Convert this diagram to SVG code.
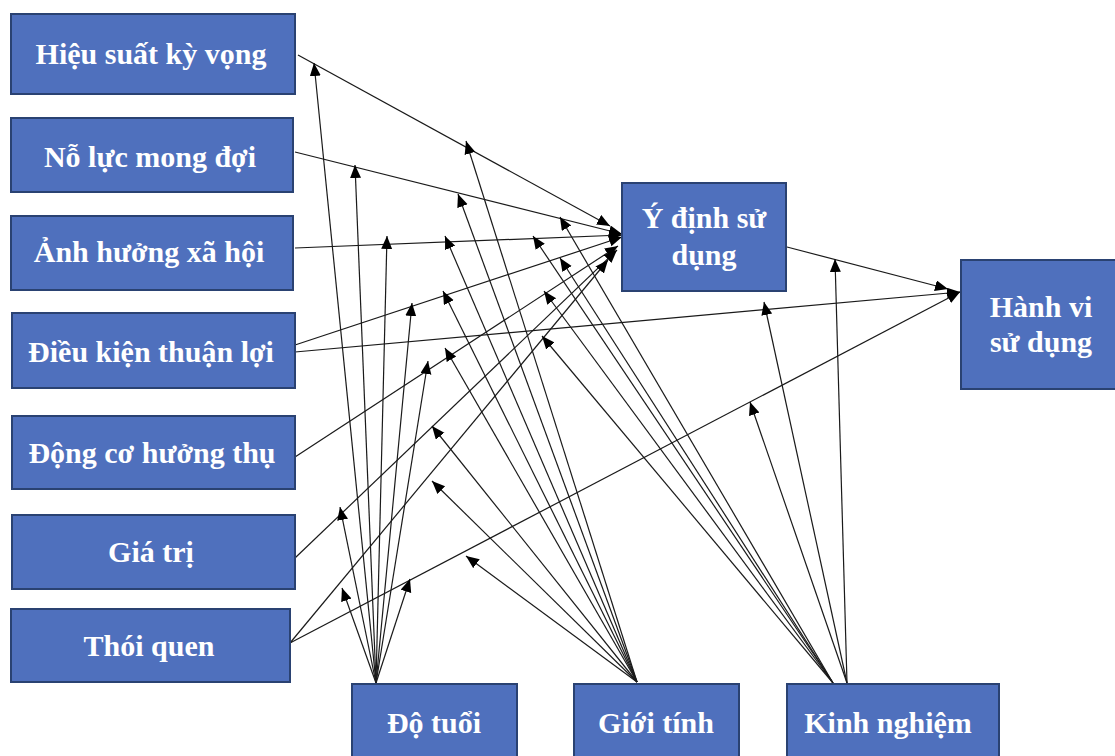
<svg xmlns="http://www.w3.org/2000/svg" width="1115" height="756" viewBox="0 0 1115 756">
<style>
.box{fill:#4F70BD;stroke:#2A4272;stroke-width:2}
.lbl{font-family:"Liberation Serif","Times New Roman",serif;font-weight:bold;font-size:30px;fill:#ffffff;text-anchor:middle}
.ln{stroke:#1a1a1a;stroke-width:1.2;fill:none;marker-end:url(#ah)}
</style>
<defs>
<marker id="ah" markerUnits="userSpaceOnUse" markerWidth="14" markerHeight="12" refX="13" refY="5.5" orient="auto">
<path d="M0,0 L13,5.5 L0,11 z" fill="#000"/>
</marker>
</defs>
<rect width="1115" height="756" fill="#ffffff"/>
<g id="connectors">
<line class="ln" x1="298" y1="55" x2="610" y2="226"/>
<line class="ln" x1="295" y1="152" x2="622" y2="234"/>
<line class="ln" x1="295" y1="248" x2="622" y2="235"/>
<line class="ln" x1="295" y1="345" x2="622" y2="237"/>
<line class="ln" x1="295" y1="352" x2="960" y2="292"/>
<line class="ln" x1="295" y1="457" x2="618" y2="246"/>
<line class="ln" x1="295" y1="558" x2="617" y2="250"/>
<line class="ln" x1="290" y1="643" x2="608" y2="260"/>
<line class="ln" x1="290" y1="643" x2="960" y2="292"/>
<line class="ln" x1="787" y1="247" x2="948" y2="289"/>
<line class="ln" x1="376" y1="683" x2="314" y2="63"/>
<line class="ln" x1="376" y1="683" x2="355" y2="165"/>
<line class="ln" x1="376" y1="683" x2="387" y2="236"/>
<line class="ln" x1="376" y1="683" x2="412" y2="303"/>
<line class="ln" x1="376" y1="683" x2="428" y2="361"/>
<line class="ln" x1="376" y1="683" x2="340" y2="507"/>
<line class="ln" x1="376" y1="683" x2="342" y2="588"/>
<line class="ln" x1="376" y1="683" x2="410" y2="579"/>
<line class="ln" x1="637" y1="682" x2="466" y2="141"/>
<line class="ln" x1="637" y1="682" x2="458" y2="194"/>
<line class="ln" x1="637" y1="682" x2="445" y2="236"/>
<line class="ln" x1="637" y1="682" x2="443" y2="291"/>
<line class="ln" x1="637" y1="682" x2="445" y2="348"/>
<line class="ln" x1="637" y1="682" x2="432" y2="426"/>
<line class="ln" x1="637" y1="682" x2="432" y2="481"/>
<line class="ln" x1="637" y1="682" x2="466" y2="556"/>
<line class="ln" x1="833" y1="683" x2="560" y2="217"/>
<line class="ln" x1="833" y1="683" x2="533" y2="236"/>
<line class="ln" x1="833" y1="683" x2="560" y2="258"/>
<line class="ln" x1="833" y1="683" x2="544" y2="291"/>
<line class="ln" x1="833" y1="683" x2="542" y2="336"/>
<line class="ln" x1="847" y1="683" x2="764" y2="302"/>
<line class="ln" x1="847" y1="683" x2="750" y2="402"/>
<line class="ln" x1="847" y1="683" x2="835" y2="259"/>
</g>
<g id="n-hieusuat"><rect class="box" x="11" y="14" width="284" height="80"/><text class="lbl" x="151" y="64">Hiệu suất kỳ vọng</text></g>
<g id="n-noluc"><rect class="box" x="11" y="118" width="282" height="74"/><text class="lbl" x="150" y="167">Nỗ lực mong đợi</text></g>
<g id="n-anhhuong"><rect class="box" x="11" y="216" width="282" height="74"/><text class="lbl" x="149" y="262">Ảnh hưởng xã hội</text></g>
<g id="n-dieukien"><rect class="box" x="12" y="313" width="283" height="75"/><text class="lbl" x="151" y="362">Điều kiện thuận lợi</text></g>
<g id="n-dongco"><rect class="box" x="12" y="416" width="283" height="73"/><text class="lbl" x="152" y="463">Động cơ hưởng thụ</text></g>
<g id="n-giatri"><rect class="box" x="12" y="515" width="283" height="74"/><text class="lbl" x="151" y="562">Giá trị</text></g>
<g id="n-thoiquen"><rect class="box" x="11" y="609" width="279" height="73"/><text class="lbl" x="149" y="656">Thói quen</text></g>
<g id="n-ydinh"><rect class="box" x="622" y="183" width="164" height="108"/><text class="lbl" x="704" y="228">Ý định sử</text><text class="lbl" x="704" y="265">dụng</text></g>
<g id="n-hanhvi"><rect class="box" x="961" y="260" width="165" height="129"/><text class="lbl" x="1041" y="317">Hành vi</text><text class="lbl" x="1041" y="352">sử dụng</text></g>
<g id="n-dotuoi"><rect class="box" x="352" y="684" width="165" height="82"/><text class="lbl" x="434" y="733">Độ tuổi</text></g>
<g id="n-gioitinh"><rect class="box" x="574" y="684" width="165" height="82"/><text class="lbl" x="656" y="733">Giới tính</text></g>
<g id="n-kinhnghiem"><rect class="box" x="787" y="684" width="212" height="82"/><text class="lbl" x="888" y="733">Kinh nghiệm</text></g>
</svg>
